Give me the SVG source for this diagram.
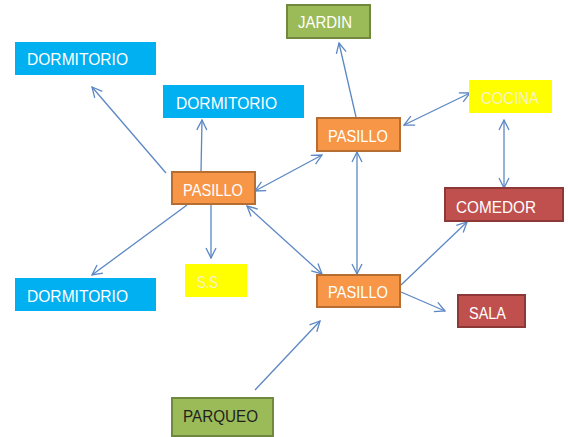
<svg xmlns="http://www.w3.org/2000/svg" width="568" height="437" viewBox="0 0 568 437">
<style>
text{font-family:"Liberation Sans",Arial,sans-serif;font-size:17px;fill:#ffffff}
.blue{fill:#00b0f0}
.orange{fill:#f79646;stroke:#b66d31;stroke-width:2}
.yellow{fill:#ffff00}
.red{fill:#c0504d;stroke:#8c3836;stroke-width:2}
.green{fill:#9bbb59;stroke:#71893f;stroke-width:2}
.c line{stroke:#5b87c5;stroke-width:1.3;fill:none}
.dark{fill:#1f1f1f}
</style>
<defs>
<marker id="a" viewBox="0 0 12 12" refX="11" refY="6" markerWidth="12" markerHeight="12" markerUnits="userSpaceOnUse" orient="auto-start-reverse">
<polyline points="1,1 11,6 1,11" fill="none" stroke="#5b87c5" stroke-width="1.3"/>
</marker>
</defs>
<g class="c">
<line x1="166" y1="173" x2="92" y2="87" marker-end="url(#a)"/>
<line x1="201" y1="172" x2="202" y2="120" marker-end="url(#a)"/>
<line x1="187" y1="205" x2="92" y2="275" marker-end="url(#a)"/>
<line x1="211" y1="205" x2="211" y2="258" marker-end="url(#a)"/>
<line x1="255" y1="191" x2="322" y2="155" marker-start="url(#a)" marker-end="url(#a)"/>
<line x1="247" y1="206" x2="322" y2="274" marker-start="url(#a)" marker-end="url(#a)"/>
<line x1="356" y1="117" x2="339" y2="43" marker-end="url(#a)"/>
<line x1="404" y1="125" x2="470" y2="93" marker-start="url(#a)" marker-end="url(#a)"/>
<line x1="504" y1="120" x2="504" y2="188" marker-start="url(#a)" marker-end="url(#a)"/>
<line x1="357" y1="152" x2="357" y2="274" marker-start="url(#a)" marker-end="url(#a)"/>
<line x1="401" y1="285" x2="467" y2="222" marker-end="url(#a)"/>
<line x1="401" y1="292" x2="445" y2="311" marker-end="url(#a)"/>
<line x1="255" y1="390" x2="320" y2="321" marker-end="url(#a)"/>
</g>
<g id="dormitorio1"><rect class="blue" x="15" y="42" width="141" height="33"/><text x="27" y="65" textLength="101" lengthAdjust="spacingAndGlyphs">DORMITORIO</text></g>
<g id="dormitorio2"><rect class="blue" x="163" y="85" width="141" height="33"/><text x="176" y="109" textLength="101" lengthAdjust="spacingAndGlyphs">DORMITORIO</text></g>
<g id="dormitorio3"><rect class="blue" x="15" y="278" width="141" height="33"/><text x="27" y="302" textLength="101" lengthAdjust="spacingAndGlyphs">DORMITORIO</text></g>
<g id="pasillo-left"><rect class="orange" x="172" y="172" width="83" height="32"/><text x="183" y="196" textLength="60" lengthAdjust="spacingAndGlyphs">PASILLO</text></g>
<g id="pasillo-top"><rect class="orange" x="317" y="118" width="83" height="33"/><text x="328" y="142" textLength="60" lengthAdjust="spacingAndGlyphs">PASILLO</text></g>
<g id="pasillo-lower"><rect class="orange" x="317" y="275" width="83" height="32"/><text x="328" y="298" textLength="60" lengthAdjust="spacingAndGlyphs">PASILLO</text></g>
<g id="jardin"><rect class="green" x="287" y="5" width="83" height="33"/><text x="298" y="28" textLength="54" lengthAdjust="spacingAndGlyphs">JARDIN</text></g>
<g id="cocina"><rect class="yellow" x="469" y="80" width="83" height="33"/><text x="481" y="104" textLength="58" lengthAdjust="spacingAndGlyphs" style="fill:#f4f4c8">COCINA</text></g>
<g id="comedor"><rect class="red" x="445" y="188" width="118" height="33"/><text x="456" y="213" textLength="80" lengthAdjust="spacingAndGlyphs">COMEDOR</text></g>
<g id="sala"><rect class="red" x="458" y="295" width="67" height="32"/><text x="469" y="319" textLength="37" lengthAdjust="spacingAndGlyphs">SALA</text></g>
<g id="ss"><rect class="yellow" x="185" y="264" width="62" height="33"/><text x="197" y="288" textLength="21" lengthAdjust="spacingAndGlyphs" style="fill:#f4f4c8">S.S</text></g>
<g id="parqueo"><rect class="green" x="172" y="398" width="101" height="38"/><text class="dark" x="183" y="422" textLength="75" lengthAdjust="spacingAndGlyphs">PARQUEO</text></g>
</svg>
